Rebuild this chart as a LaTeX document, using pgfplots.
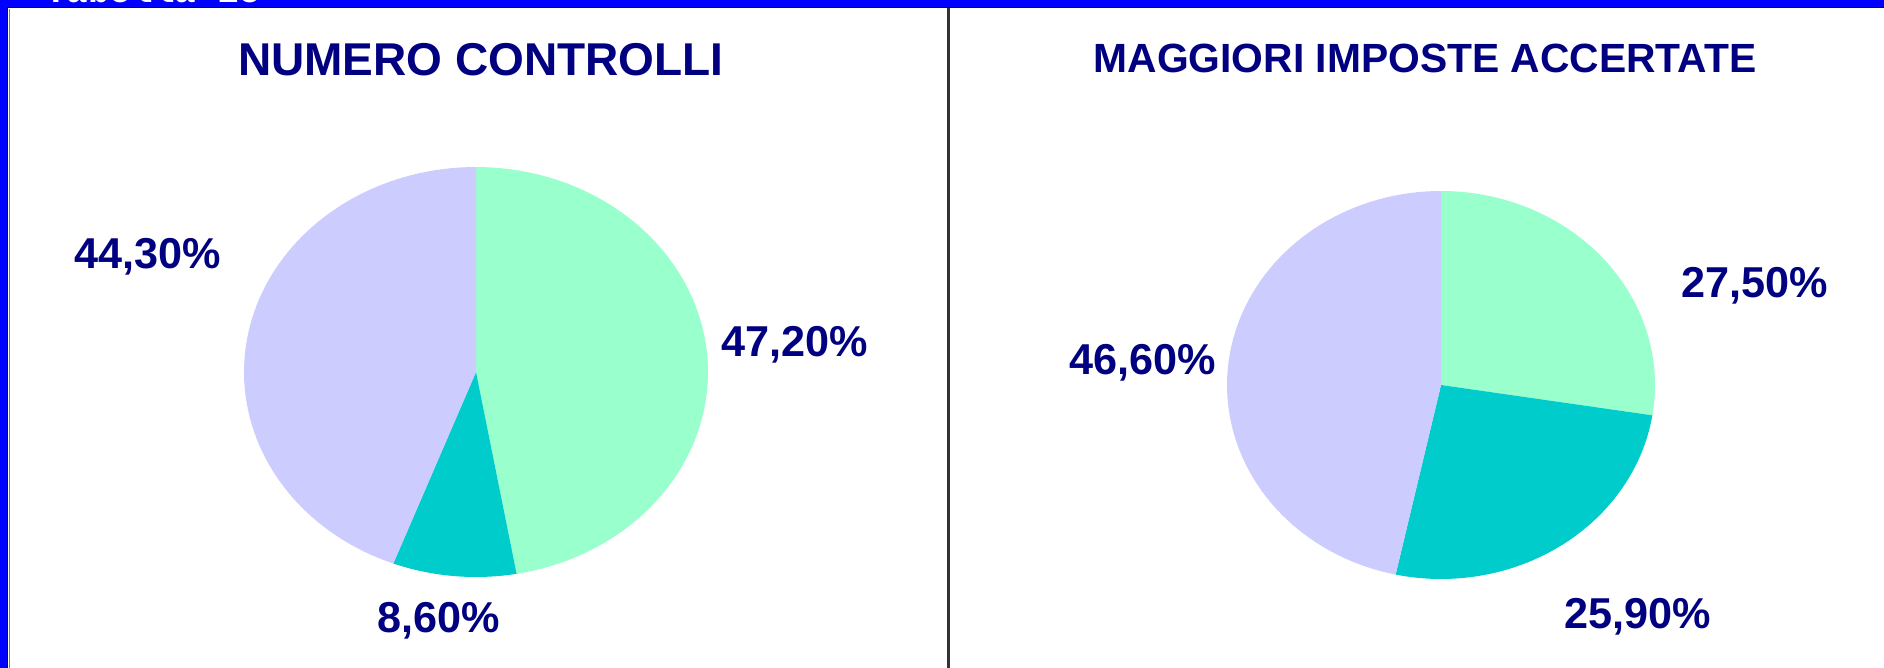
\documentclass[border=0pt]{standalone}
\usepackage{pgfplots}
\pgfplotsset{compat=1.18}
\usepackage{fontspec}
\setmainfont{Liberation Sans}
\newfontfamily\monofont{Liberation Mono}
\definecolor{pgreen}{HTML}{99FFCC}
\definecolor{pteal}{HTML}{00CCCC}
\definecolor{plav}{HTML}{CCCCFF}
\definecolor{navy}{HTML}{000080}
\definecolor{frameblue}{HTML}{0000FF}
% values (percent)
\def\La{47.2}\def\Lb{8.6}\def\Lc{44.3}
\def\Ra{27.5}\def\Rb{25.9}\def\Rc{46.6}
\tikzset{lbl/.style={text=navy, font=\bfseries\fontsize{21.6}{21.6}\selectfont}}
\begin{document}
\begin{tikzpicture}
\begin{axis}[
  width=942pt, height=334pt, scale only axis,
  xmin=0, xmax=1884, ymin=0, ymax=668, y dir=reverse,
  hide axis, clip=true,
]
% frame
\fill[white] (axis cs:0,0) rectangle (axis cs:1884,668);
\fill[frameblue] (axis cs:0,0) rectangle (axis cs:1884,7);
\fill[frameblue] (axis cs:0,0) rectangle (axis cs:7,668);
\draw[black, line width=0.6pt] (axis cs:7.5,668) -- (axis cs:7.5,7.5) -- (axis cs:1884,7.5);
\draw[gray, line width=0.5pt] (axis cs:9,668) -- (axis cs:9,9);
\draw[black!80, line width=1.5pt] (axis cs:948,8) -- (axis cs:948,668);
\begin{scope}
\clip (axis cs:0,0) rectangle (axis cs:1884,6);
\node[text=white, font=\monofont\bfseries\fontsize{18}{18}\selectfont, anchor=base west] at (axis cs:38,3) {Tabella 15};
\end{scope}
% left pie
\pgfmathsetmacro\sa{90}
\pgfmathsetmacro\sb{\sa-3.6*\La}
\pgfmathsetmacro\sc{\sb-3.6*\Lb}
\pgfmathsetmacro\sd{-270}
\addplot[fill=pgreen, draw=none, domain=\sb:\sa, samples=80] ({476+232*cos(x)},{372-205*sin(x)}) -- (axis cs:476,372) -- cycle;
\addplot[fill=pteal, draw=none, domain=\sc:\sb, samples=30] ({476+232*cos(x)},{372-205*sin(x)}) -- (axis cs:476,372) -- cycle;
\addplot[fill=plav, draw=none, domain=\sd:\sc, samples=80] ({476+232*cos(x)},{372-205*sin(x)}) -- (axis cs:476,372) -- cycle;
% right pie
\pgfmathsetmacro\ta{90}
\pgfmathsetmacro\tb{\ta-3.6*\Ra}
\pgfmathsetmacro\tc{\tb-3.6*\Rb}
\pgfmathsetmacro\td{-270}
\addplot[fill=pgreen, draw=none, domain=\tb:\ta, samples=60] ({1441+214*cos(x)},{385-194*sin(x)}) -- (axis cs:1441,385) -- cycle;
\addplot[fill=pteal, draw=none, domain=\tc:\tb, samples=60] ({1441+214*cos(x)},{385-194*sin(x)}) -- (axis cs:1441,385) -- cycle;
\addplot[fill=plav, draw=none, domain=\td:\tc, samples=80] ({1441+214*cos(x)},{385-194*sin(x)}) -- (axis cs:1441,385) -- cycle;
% titles
\node[text=navy, font=\bfseries\fontsize{23}{23}\selectfont] at (axis cs:481,60) {NUMERO CONTROLLI};
\node[text=navy, font=\bfseries\fontsize{20.4}{20.4}\selectfont] at (axis cs:1425,58) {MAGGIORI IMPOSTE ACCERTATE};
% labels
\node[lbl] at (axis cs:795,345) {47,20\%};
\node[lbl] at (axis cs:439,621) {8,60\%};
\node[lbl] at (axis cs:148,257) {44,30\%};
\node[lbl] at (axis cs:1755,286) {27,50\%};
\node[lbl] at (axis cs:1638,617) {25,90\%};
\node[lbl] at (axis cs:1143,363) {46,60\%};
\end{axis}
\end{tikzpicture}
\end{document}
